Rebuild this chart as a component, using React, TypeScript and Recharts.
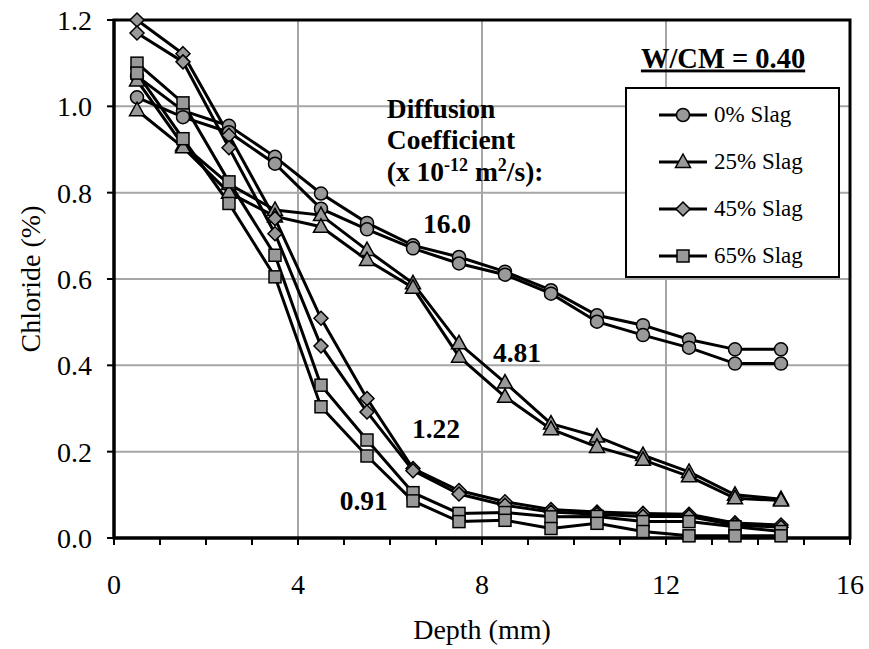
import React from 'react';
import {
  LineChart,
  Line,
  XAxis,
  YAxis,
  CartesianGrid,
  ReferenceArea,
  ReferenceDot,
  Legend,
  Label,
} from 'recharts';

const FONT = '"Liberation Serif", "Times New Roman", serif';
const MARKER_FILL = '#999999';

// depth at mid-slice (mm)
const depth = [0.5, 1.5, 2.5, 3.5, 4.5, 5.5, 6.5, 7.5, 8.5, 9.5, 10.5, 11.5, 12.5, 13.5, 14.5];

// chloride (%) - two replicates per mix
const slag0A = [1.07, 0.99, 0.955, 0.883, 0.798, 0.73, 0.678, 0.651, 0.617, 0.574, 0.516, 0.493, 0.46, 0.437, 0.437];
const slag0B = [1.021, 0.975, 0.94, 0.867, 0.763, 0.715, 0.671, 0.636, 0.61, 0.566, 0.501, 0.47, 0.441, 0.404, 0.404];
const slag25A = [1.06, 0.91, 0.82, 0.76, 0.748, 0.667, 0.59, 0.451, 0.36, 0.265, 0.235, 0.192, 0.153, 0.1, 0.09];
const slag25B = [0.991, 0.905, 0.8, 0.745, 0.721, 0.644, 0.58, 0.42, 0.327, 0.252, 0.211, 0.181, 0.143, 0.092, 0.087];
const slag45A = [1.2, 1.122, 0.933, 0.74, 0.509, 0.323, 0.161, 0.11, 0.084, 0.066, 0.06, 0.057, 0.055, 0.035, 0.03];
const slag45B = [1.17, 1.103, 0.904, 0.705, 0.445, 0.292, 0.156, 0.102, 0.076, 0.06, 0.055, 0.05, 0.05, 0.03, 0.025];
const slag65A = [1.1, 1.008, 0.825, 0.655, 0.354, 0.227, 0.105, 0.057, 0.059, 0.049, 0.05, 0.038, 0.038, 0.026, 0.015];
const slag65B = [1.077, 0.925, 0.775, 0.605, 0.304, 0.19, 0.086, 0.038, 0.041, 0.022, 0.034, 0.015, 0.005, 0.005, 0.005];

const legendNames = ['0% Slag', '25% Slag', '45% Slag', '65% Slag'];
const legendShapes = ['circle', 'triangle', 'diamond', 'square'];

const xTicks = [0, 1, 2, 3, 4, 5, 6, 7, 8, 9, 10, 11, 12, 13, 14, 15, 16];
const xGrid = [4, 8, 12];
const yTicks = [0, 0.2, 0.4, 0.6, 0.8, 1.0, 1.2];

const coeffLabels = ['16.0', '4.81', '1.22', '0.91'];

const data = depth.map((d, i) => ({
  depth: d,
  s0a: slag0A[i],
  s0b: slag0B[i],
  s25a: slag25A[i],
  s25b: slag25B[i],
  s45a: slag45A[i],
  s45b: slag45B[i],
  s65a: slag65A[i],
  s65b: slag65B[i],
}));

const series = [
  { key: 's0a', shape: 'circle' },
  { key: 's0b', shape: 'circle' },
  { key: 's25a', shape: 'triangle' },
  { key: 's25b', shape: 'triangle' },
  { key: 's45a', shape: 'diamond' },
  { key: 's45b', shape: 'diamond' },
  { key: 's65a', shape: 'square' },
  { key: 's65b', shape: 'square' },
];

const Marker = ({ shape, cx, cy }: { shape: string; cx?: number; cy?: number }) => {
  if (cx == null || cy == null) return null;
  const common = { fill: MARKER_FILL, stroke: '#000', strokeWidth: 1.5 };
  if (shape === 'circle') return <circle cx={cx} cy={cy} r={6.5} {...common} />;
  if (shape === 'triangle')
    return <polygon points={`${cx},${cy - 8} ${cx + 7.5},${cy + 5.5} ${cx - 7.5},${cy + 5.5}`} {...common} />;
  if (shape === 'diamond')
    return <polygon points={`${cx},${cy - 7} ${cx + 7},${cy} ${cx},${cy + 7} ${cx - 7},${cy}`} {...common} />;
  return <rect x={cx - 6} y={cy - 6} width={12} height={12} {...common} />;
};

const renderLegend = () => (
  <div
    style={{
      border: '2.5px solid #000',
      background: '#fff',
      width: 215,
      height: 191,
      boxSizing: 'border-box',
      paddingTop: 2,
      fontFamily: FONT,
      fontSize: 23,
      color: '#000',
    }}
  >
    {legendNames.map((name, i) => (
      <div key={name} style={{ display: 'flex', alignItems: 'center', height: 47 }}>
        <svg width={50} height={20} style={{ marginLeft: 31 }}>
          <line x1={1} y1={10} x2={49} y2={10} stroke="#000" strokeWidth={3} />
          <Marker shape={legendShapes[i]} cx={25} cy={10} />
        </svg>
        <span style={{ marginLeft: 6 }}>{name}</span>
      </div>
    ))}
  </div>
);

const boldText = { fontFamily: FONT, fontSize: 27.5, fontWeight: 'bold' as const, fill: '#000' };

const coeffText = (value: string) => (p: any) => (
  <text x={p.cx} y={p.cy} dy="0.35em" textAnchor="middle" {...boldText}>
    {value}
  </text>
);

const diffusionBlock = (p: any) => (
  <g>
    <text x={p.cx} y={p.cy} dy="0.35em" {...boldText}>Diffusion</text>
    <text x={p.cx} y={p.cy + 31} dy="0.35em" {...boldText}>Coefficient</text>
    <text x={p.cx} y={p.cy + 63} dy="0.35em" {...boldText}>
      <tspan>(x 10</tspan>
      <tspan dy={-10} fontSize={18}>-12</tspan>
      <tspan dy={10}> m</tspan>
      <tspan dy={-10} fontSize={18}>2</tspan>
      <tspan dy={10}>/s):</tspan>
    </text>
  </g>
);

const titleBlock = (p: any) => (
  <text
    x={p.cx}
    y={p.cy}
    dy="0.35em"
    textAnchor="middle"
    textDecoration="underline"
    {...boldText}
    fontSize={28.5}
  >
    W/CM = 0.40
  </text>
);

export default function App() {
  return (
    <div style={{ position: 'absolute', left: 0, top: 0, width: 869, height: 649, background: '#fff' }}>
      <LineChart width={869} height={649} data={data} margin={{ top: 20, right: 19, bottom: 5, left: 14 }}>
        <CartesianGrid
          stroke="#a6a6a6"
          strokeWidth={2}
          horizontalValues={yTicks}
          verticalValues={xGrid}
        />
        <XAxis
          type="number"
          dataKey="depth"
          domain={[0, 16]}
          ticks={xTicks}
          interval={0}
          tickFormatter={(v: number) => (v % 4 === 0 ? String(v) : '')}
          height={106}
          tickSize={7}
          tickMargin={29}
          axisLine={{ stroke: '#000', strokeWidth: 3 }}
          tickLine={{ stroke: '#000', strokeWidth: 2 }}
          tick={{ fill: '#000', fontFamily: FONT, fontSize: 28 }}
        >
          <Label
            value="Depth (mm)"
            position="insideBottom"
            offset={5}
            style={{ fill: '#000', fontFamily: FONT, fontSize: 28 }}
          />
        </XAxis>
        <YAxis
          type="number"
          domain={[0, 1.2]}
          ticks={yTicks}
          interval={0}
          tickFormatter={(v: number) => v.toFixed(1)}
          width={100}
          tickSize={7}
          tickMargin={15}
          axisLine={{ stroke: '#000', strokeWidth: 3 }}
          tickLine={{ stroke: '#000', strokeWidth: 2 }}
          tick={{ fill: '#000', fontFamily: FONT, fontSize: 28 }}
        >
          <Label
            value="Chloride (%)"
            angle={-90}
            position="insideLeft"
            offset={16}
            style={{ fill: '#000', fontFamily: FONT, fontSize: 28, textAnchor: 'middle' }}
          />
        </YAxis>
        <ReferenceArea x1={0} x2={16} y1={0} y2={1.2} fill="none" stroke="#000" strokeWidth={3} />
        {series.map((s) => (
          <Line
            key={s.key}
            type="linear"
            dataKey={s.key}
            stroke="#000"
            strokeWidth={3}
            isAnimationActive={false}
            legendType="none"
            activeDot={false}
            dot={(p: any) => <Marker key={`${s.key}-${p.index}`} shape={s.shape} cx={p.cx} cy={p.cy} />}
          />
        ))}
        <ReferenceDot x={5.93} y={0.995} r={0} shape={diffusionBlock} />
        <ReferenceDot x={7.24} y={0.729} r={0} shape={coeffText(coeffLabels[0])} />
        <ReferenceDot x={8.76} y={0.431} r={0} shape={coeffText(coeffLabels[1])} />
        <ReferenceDot x={7.0} y={0.255} r={0} shape={coeffText(coeffLabels[2])} />
        <ReferenceDot x={5.43} y={0.088} r={0} shape={coeffText(coeffLabels[3])} />
        <ReferenceDot x={13.24} y={1.113} r={0} shape={titleBlock} />
        <Legend
          layout="vertical"
          align="center"
          verticalAlign="middle"
          content={renderLegend}
          wrapperStyle={{ left: 625, top: 87, width: 215, height: 191 }}
        />
      </LineChart>
    </div>
  );
}
